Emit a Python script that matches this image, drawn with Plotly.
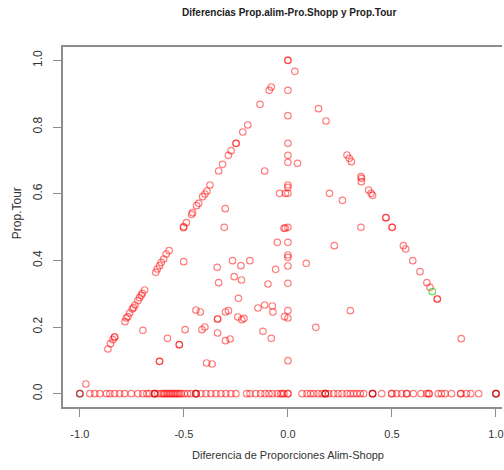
import plotly.graph_objects as go

# ---- data (x = Alim-Shopp difference, y = Prop.Tour) ----
# points on the left diagonal (y = 1 + x)
diag_left_x = [-0.080, -0.090, -0.134, -0.193, -0.217, -0.249, -0.249, -0.273, -0.286, -0.314,
               -0.333, -0.375, -0.389, -0.399, -0.410, -0.429, -0.439, -0.458, -0.463, -0.488,
               -0.501, -0.502, -0.571, -0.585, -0.597, -0.609, -0.617, -0.628, -0.635, -0.689,
               -0.700, -0.705, -0.713, -0.721, -0.735, -0.742, -0.748, -0.761, -0.769, -0.777,
               -0.783, -0.833, -0.833, -0.841, -0.853, -0.865]
diag_left_y = [0.920, 0.910, 0.868, 0.806, 0.785, 0.751, 0.751, 0.729, 0.715, 0.688,
               0.668, 0.626, 0.608, 0.599, 0.591, 0.571, 0.564, 0.543, 0.538, 0.513,
               0.501, 0.498, 0.429, 0.419, 0.404, 0.394, 0.384, 0.374, 0.364, 0.311,
               0.301, 0.295, 0.288, 0.279, 0.266, 0.258, 0.254, 0.242, 0.231, 0.227,
               0.216, 0.170, 0.170, 0.162, 0.150, 0.134]

# points on the right diagonal (y = 1 - x)
diag_right_x = [0.033, 0.147, 0.183, 0.284, 0.295, 0.305, 0.351, 0.354, 0.353, 0.388,
                0.400, 0.407, 0.470, 0.472, 0.501, 0.501, 0.555, 0.566, 0.600, 0.635,
                0.668, 0.683, 0.718, 0.718]
diag_right_y = [0.967, 0.855, 0.818, 0.716, 0.706, 0.696, 0.651, 0.646, 0.636, 0.611,
                0.601, 0.595, 0.528, 0.528, 0.499, 0.499, 0.444, 0.434, 0.399, 0.366,
                0.333, 0.319, 0.284, 0.284]

# points on the vertical line x = 0
vert_x = [0.0, 0.0, 0.0, 0.0, 0.0, 0.0, 0.0, 0.0, 0.0, 0.0,
          0.0, 0.0, 0.0, 0.0, 0.0, 0.0, 0.0, 0.0, 0.0]
vert_y = [1.000, 1.000, 0.910, 0.834, 0.751, 0.715, 0.694, 0.626, 0.619, 0.601,
          0.499, 0.454, 0.416, 0.409, 0.383, 0.331, 0.249, 0.227, 0.099]

# scattered interior points
inner_x = [-0.112, -0.040, -0.012, -0.301, -0.306, -0.019, -0.013, 0.046, 0.200, 0.262,
           0.351, -0.051, -0.059, -0.096, -0.266, -0.226, -0.183, -0.340, -0.333, -0.258,
           -0.223, -0.501, -0.697, -0.442, -0.421, -0.338, -0.338, -0.300, -0.286, -0.238,
           -0.241, -0.222, -0.211, -0.144, -0.112, -0.075, -0.072, -0.016, -0.120, -0.080,
           -0.494, -0.413, -0.399, -0.338, -0.300, -0.278, -0.579, -0.522, -0.522, -0.617,
           -0.617, -0.391, -0.364, -0.971, 0.223, 0.088, 0.300, 0.134, 0.833]
inner_y = [0.668, 0.601, 0.601, 0.555, 0.499, 0.496, 0.497, 0.691, 0.601, 0.580,
           0.499, 0.454, 0.373, 0.329, 0.399, 0.384, 0.399, 0.379, 0.333, 0.351,
           0.341, 0.396, 0.190, 0.251, 0.245, 0.224, 0.224, 0.245, 0.249, 0.286,
           0.230, 0.222, 0.226, 0.257, 0.266, 0.263, 0.245, 0.231, 0.187, 0.166,
           0.192, 0.192, 0.200, 0.182, 0.159, 0.164, 0.166, 0.147, 0.147, 0.097,
           0.097, 0.092, 0.089, 0.029, 0.444, 0.391, 0.249, 0.199, 0.165]

# points on the bottom row (Prop.Tour = 0)
zero_x = [-1.000, -0.952, -0.928, -0.904, -0.872, -0.856, -0.833, -0.809, -0.785, -0.753,
          -0.721, -0.697, -0.678, -0.665, -0.641, -0.641, -0.625, -0.609, -0.600, -0.593,
          -0.585, -0.577, -0.569, -0.561, -0.553, -0.545, -0.537, -0.530, -0.521, -0.513,
          -0.498, -0.482, -0.466, -0.442, -0.442, -0.418, -0.394, -0.370, -0.346, -0.322,
          -0.298, -0.274, -0.250, -0.198, -0.182, -0.155, -0.131, -0.110, -0.091, -0.075,
          -0.051, -0.035, -0.027, -0.019, 0.000, 0.000, 0.068, 0.092, 0.109, 0.124,
          0.145, 0.164, 0.180, 0.180, 0.196, 0.220, 0.241, 0.260, 0.284, 0.300,
          0.316, 0.332, 0.348, 0.364, 0.407, 0.407, 0.451, 0.499, 0.499, 0.523,
          0.547, 0.571, 0.571, 0.603, 0.640, 0.667, 0.678, 0.678, 0.722, 0.738,
          0.755, 0.786, 0.831, 0.831, 0.858, 0.879, 0.917, 1.000, 1.000]
zero_y = [0.0, 0.0, 0.0, 0.0, 0.0, 0.0, 0.0, 0.0, 0.0, 0.0,
          0.0, 0.0, 0.0, 0.0, 0.0, 0.0, 0.0, 0.0, 0.0, 0.0,
          0.0, 0.0, 0.0, 0.0, 0.0, 0.0, 0.0, 0.0, 0.0, 0.0,
          0.0, 0.0, 0.0, 0.0, 0.0, 0.0, 0.0, 0.0, 0.0, 0.0,
          0.0, 0.0, 0.0, 0.0, 0.0, 0.0, 0.0, 0.0, 0.0, 0.0,
          0.0, 0.0, 0.0, 0.0, 0.0, 0.0, 0.0, 0.0, 0.0, 0.0,
          0.0, 0.0, 0.0, 0.0, 0.0, 0.0, 0.0, 0.0, 0.0, 0.0,
          0.0, 0.0, 0.0, 0.0, 0.0, 0.0, 0.0, 0.0, 0.0, 0.0,
          0.0, 0.0, 0.0, 0.0, 0.0, 0.0, 0.0, 0.0, 0.0, 0.0,
          0.0, 0.0, 0.0, 0.0, 0.0, 0.0, 0.0, 0.0, 0.0]

# second group (black) and third group (green)
black_x = [-1.000, -0.641, -0.442, 0.180, 0.407, 1.000]
black_y = [0.0, 0.0, 0.0, 0.0, 0.0, 0.0]
green_x = [0.694]
green_y = [0.306]

x_ticks = [-1.0, -0.5, 0.0, 0.5, 1.0]
x_tick_text = ["-1.0", "-0.5", "0.0", "0.5", "1.0"]
y_ticks = [0.0, 0.2, 0.4, 0.6, 0.8, 1.0]
y_tick_text = ["0.0", "0.2", "0.4", "0.6", "0.8", "1.0"]

title_text = "Diferencias Prop.alim-Pro.Shopp y Prop.Tour"
x_title = "Diferencia de Proporciones Alim-Shopp"
y_title = "Prop.Tour"

# ---- figure ----
W, H = 504, 470
ML, MT, MB = 63, 47, 63
FONT = "Liberation Sans, Arial, sans-serif"

red_x = diag_left_x + diag_right_x + vert_x + inner_x + zero_x
red_y = diag_left_y + diag_right_y + vert_y + inner_y + zero_y

def marker(color):
    return dict(symbol="circle-open", size=6.5, color=color, line=dict(width=1.2, color=color))

fig = go.Figure()
fig.add_trace(go.Scatter(x=black_x, y=black_y, mode="markers",
                         marker=marker("rgba(0,0,0,0.55)"), hoverinfo="skip"))
fig.add_trace(go.Scatter(x=red_x, y=red_y, mode="markers",
                         marker=marker("rgba(255,0,0,0.5)"), hoverinfo="skip"))
fig.add_trace(go.Scatter(x=green_x, y=green_y, mode="markers",
                         marker=marker("rgba(0,205,0,0.6)"), hoverinfo="skip"))

axis_col = "#8c8c8c"
fig.update_layout(
    width=W, height=H,
    margin=dict(l=ML, r=0, t=MT, b=MB, pad=0),
    paper_bgcolor="white", plot_bgcolor="white",
    showlegend=False,
    font=dict(family=FONT, color="#333333"),
    xaxis=dict(range=[-1.081, 1.029], tickvals=x_ticks, ticktext=x_tick_text,
               ticks="outside", ticklen=8, tickwidth=1.2, tickcolor=axis_col,
               showline=True, linecolor=axis_col, linewidth=1.5, mirror=True,
               showgrid=False, zeroline=False, tickfont=dict(size=11, color="#333333"),
               ticklabelstandoff=8, ticklabeloverflow="allow"),
    yaxis=dict(range=[-0.04, 1.04], tickvals=y_ticks, ticktext=y_tick_text,
               ticks="outside", ticklen=8, tickwidth=1.2, tickcolor=axis_col,
               showline=True, linecolor=axis_col, linewidth=1.5, mirror=False,
               showgrid=False, zeroline=False, tickangle=-90,
               tickfont=dict(size=12, color="#333333"), ticklabelstandoff=6),
)

fig.add_annotation(text="<b>" + title_text + "</b>", xref="paper", yref="paper",
                   x=(290 - ML) / (W - ML), y=1 + (MT - 13) / (H - MT - MB),
                   xanchor="center", yanchor="middle", showarrow=False,
                   font=dict(size=10, color="#222222", family=FONT))
fig.add_annotation(text=x_title, xref="paper", yref="paper",
                   x=(289 - ML) / (W - ML), y=-(455 - (H - MB)) / (H - MT - MB),
                   xanchor="center", yanchor="middle", showarrow=False,
                   font=dict(size=11, color="#333333", family=FONT))
fig.add_annotation(text=y_title, xref="paper", yref="paper", textangle=-90,
                   x=-(ML - 17) / (W - ML), y=1 - (213 - MT) / (H - MT - MB),
                   xanchor="center", yanchor="middle", showarrow=False,
                   font=dict(size=12, color="#333333", family=FONT))

fig.write_html("out.html")
